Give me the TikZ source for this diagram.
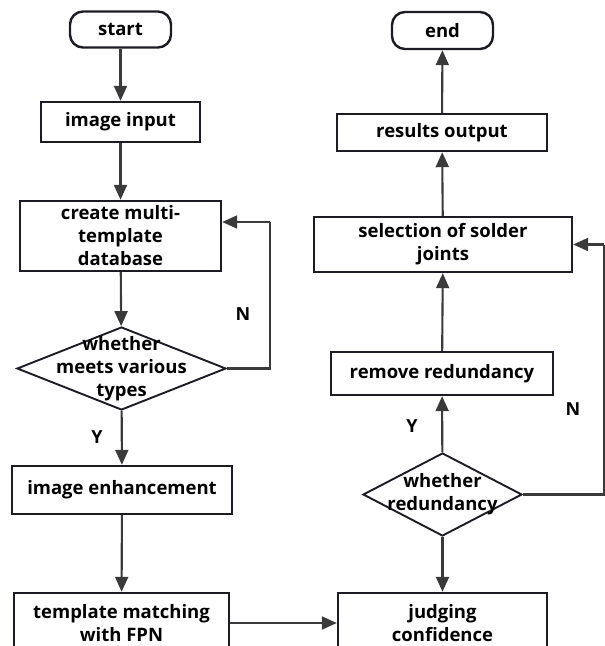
\documentclass[tikz,border=0pt]{standalone}
\usepackage{fontspec}
\setmainfont{Open Sans}
\usetikzlibrary{arrows.meta,shapes.geometric}
\definecolor{flowInk}{HTML}{1C1C24}
\definecolor{flowLine}{HTML}{3A3A3A}
\tikzset{
  flow box/.style={draw=flowInk, line width=2.4pt, fill=white, inner sep=0pt, align=center,
    font=\bfseries\fontsize{18.5}{23}\selectfont},
  flow term/.style={flow box, rounded corners=13pt},
  flow test/.style={diamond, draw=flowInk, line width=1.9pt, fill=white, inner sep=0pt},
  flow text/.style={align=center, inner sep=0pt, font=\bfseries\fontsize{18.5}{23}\selectfont},
  flow arrow/.style={draw=flowLine, line width=2.1pt, -{Triangle[length=15pt,width=13pt]}},
  flow line/.style={draw=flowLine, line width=2.1pt},
  flow mark/.style={font=\bfseries\fontsize{18}{20}\selectfont, inner sep=0pt},
}

\begin{document}
\begin{tikzpicture}[x=1pt, y=-1pt]
  \useasboundingbox (0,0) rectangle (605,646);

  % Left column
  \node[flow term, minimum width=101pt, minimum height=36pt] (start) at (120.5,29.5) {start};
  \node[flow box, minimum width=159pt, minimum height=40pt] (input) at (120.5,122) {image input};
  \node[flow box, minimum width=201pt, minimum height=70pt] (db) at (120.5,236) {create multi-\\template\\database};
  \node[flow test, minimum width=209pt, minimum height=83pt] (test1) at (121.5,368.5) {};
  \node[flow text] at (test1) {whether\\meets various\\types};
  \node[flow box, minimum width=220pt, minimum height=48pt] (enh) at (122,490) {image enhancement};
  \node[flow box, minimum width=215pt, minimum height=60pt] (match) at (121.5,623) {template matching\\with FPN};

  % Right column
  \node[flow box, minimum width=209pt, minimum height=60pt] (judge) at (442.5,623) {judging\\confidence};
  \node[flow test, minimum width=159pt, minimum height=83pt] (test2) at (442.5,494.5) {};
  \node[flow text] at (test2) {whether\\redundancy};
  \node[flow box, minimum width=222pt, minimum height=43pt] (remove) at (442,373.5) {remove redundancy};
  \node[flow box, minimum width=258pt, minimum height=55pt] (sel) at (443,244.5) {selection of solder\\joints};
  \node[flow box, minimum width=210pt, minimum height=37pt] (out) at (442,132.5) {results output};
  \node[flow term, minimum width=101pt, minimum height=37pt] (end) at (442.5,30.5) {end};

  % Branch labels
  \node[flow mark] (n1) at (243,314) {N};
  \node[flow mark] (y1) at (97,437) {Y};
  \node[flow mark] (y2) at (412,426) {Y};
  \node[flow mark] (n2) at (573,409) {N};

  % Loop corners
  \coordinate (loopA) at (270,222);
  \coordinate (loopB) at (604,244.5);

  % Connectors
  \draw[flow arrow] (start) -- (input);
  \draw[flow arrow] (input) -- (db);
  \draw[flow arrow] (db) -- (test1);
  \draw[flow arrow] (test1) -- (enh);
  \draw[flow arrow] (enh) -- (match);
  \draw[flow arrow] (match) -- (judge);
  \draw[flow line] (test1.east) -| (loopA);
  \draw[flow arrow] (loopA) -- (loopA -| db.east);
  \draw[flow arrow] (test2) -- (judge);
  \draw[flow arrow] (test2) -- (remove);
  \draw[flow arrow] (remove) -- (sel);
  \draw[flow arrow] (sel) -- (out);
  \draw[flow arrow] (out) -- (end);
  \draw[flow line] (test2.east) -| (loopB);
  \draw[flow arrow] (loopB) -- (sel.east);
\end{tikzpicture}
\end{document}
